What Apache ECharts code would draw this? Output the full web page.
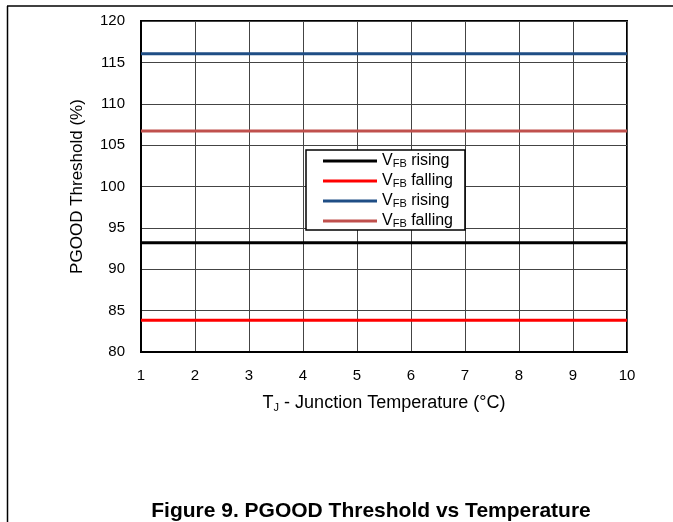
<!DOCTYPE html>
<html>
<head>
<meta charset="utf-8">
<script src="https://cdn.jsdelivr.net/npm/echarts@6/dist/echarts.min.js"></script>
<style>
html,body{margin:0;padding:0;background:#fff;}
#chart{width:673px;height:522px;}
</style>
</head>
<body>
<div id="chart"></div>
<script>
const temps = [1, 2, 3, 4, 5, 6, 7, 8, 9, 10];
const yTicks = [80, 85, 90, 95, 100, 105, 110, 115, 120];
const vfbRisingLow  = [93.2, 93.2, 93.2, 93.2, 93.2, 93.2, 93.2, 93.2, 93.2, 93.2];
const vfbFallingLow = [83.85, 83.85, 83.85, 83.85, 83.85, 83.85, 83.85, 83.85, 83.85, 83.85];
const vfbRisingHigh = [116.05, 116.05, 116.05, 116.05, 116.05, 116.05, 116.05, 116.05, 116.05, 116.05];
const vfbFallingHigh = [106.7, 106.7, 106.7, 106.7, 106.7, 106.7, 106.7, 106.7, 106.7, 106.7];
const seriesNames = ['rise1', 'fall1', 'rise2', 'fall2'];
const legendLabels = {
  rise1: '{v|V}{s|FB}{t| rising}',
  fall1: '{v|V}{s|FB}{t| falling}',
  rise2: '{v|V}{s|FB}{t| rising}',
  fall2: '{v|V}{s|FB}{t| falling}'
};
const colors = ['#000000', '#ff0000', '#1f4e85', '#c0504d'];
const seriesData = [vfbRisingLow, vfbFallingLow, vfbRisingHigh, vfbFallingHigh];

const chart = echarts.init(document.getElementById('chart'), null, {renderer: 'canvas'});
const font = 'Liberation Sans, Arial, sans-serif';

chart.setOption({
  animation: false,
  backgroundColor: '#ffffff',
  grid: {left: 141, right: 46, top: 21, bottom: 170, show: true, borderColor: '#000', borderWidth: 2, containLabel: false},
  title: {
    text: 'Figure 9. PGOOD Threshold vs Temperature',
    left: 366, top: 496, textAlign: 'center',
    textStyle: {fontFamily: font, fontWeight: 'bold', fontSize: 21, color: '#000'}
  },
  legend: {
    data: seriesNames,
    orient: 'vertical',
    left: 306, top: 150,
    padding: [2, 12, 1, 17],
    icon: 'rect',
    itemWidth: 54, itemHeight: 3, itemGap: 3,
    backgroundColor: '#fff',
    borderColor: '#000', borderWidth: 1.5,
    formatter: function (name) { return legendLabels[name]; },
    textStyle: {
      fontFamily: font, color: '#000',
      rich: {
        v: {fontFamily: font, fontSize: 16, color: '#000', lineHeight: 16},
        s: {fontFamily: font, fontSize: 11, color: '#000', verticalAlign: 'bottom', lineHeight: 16, padding: [6, 0, 0, 0]},
        t: {fontFamily: font, fontSize: 16, color: '#000', lineHeight: 16}
      }
    }
  },
  xAxis: {
    type: 'value', min: 1, max: 10, interval: 1,
    name: '{a|T}{b|J}{a| - Junction Temperature (°C)}',
    nameLocation: 'middle', nameGap: 41,
    nameTextStyle: {
      fontFamily: font, color: '#000',
      rich: {
        a: {fontFamily: font, fontSize: 18, color: '#000', lineHeight: 20},
        b: {fontFamily: font, fontSize: 11, color: '#000', verticalAlign: 'bottom', lineHeight: 20, padding: [9, 0, 0, 0]}
      }
    },
    axisLine: {show: true, onZero: false, lineStyle: {color: '#000', width: 2}},
    axisTick: {show: false},
    axisLabel: {fontFamily: font, fontSize: 15, color: '#000', margin: 16},
    splitLine: {show: true, lineStyle: {color: '#444', width: 1}}
  },
  yAxis: {
    type: 'value', min: 80, max: 120, interval: 5,
    name: 'PGOOD Threshold (%)',
    nameLocation: 'middle', nameGap: 55,
    nameTextStyle: {fontFamily: font, fontSize: 17, color: '#000'},
    axisLine: {show: true, onZero: false, lineStyle: {color: '#000', width: 2}},
    axisTick: {show: false},
    axisLabel: {
      fontFamily: font, fontSize: 15, color: '#000', margin: 16,
      formatter: function (v) { return yTicks.indexOf(v) >= 0 ? String(v) : ''; }
    },
    splitLine: {show: true, lineStyle: {color: '#444', width: 1}}
  },
  graphic: [
    {type: 'line', shape: {x1: 7, y1: 6, x2: 673, y2: 6}, style: {stroke: '#000', lineWidth: 1.5}, z: 100},
    {type: 'line', shape: {x1: 7.5, y1: 6, x2: 7.5, y2: 522}, style: {stroke: '#000', lineWidth: 1.5}, z: 100}
  ],
  series: seriesNames.map(function (n, i) {
    return {
      name: n, type: 'line', showSymbol: false, symbol: 'none',
      data: temps.map(function (t, j) { return [t, seriesData[i][j]]; }),
      lineStyle: {color: colors[i], width: 3},
      itemStyle: {color: colors[i]}
    };
  })
});
</script>
</body>
</html>
